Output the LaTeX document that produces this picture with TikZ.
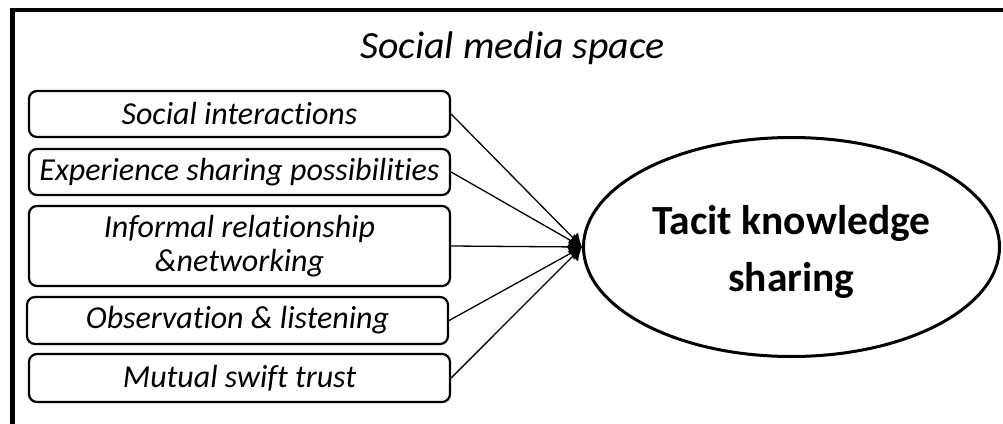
\documentclass[tikz,border=0pt]{standalone}
\usepackage{fontspec}
\setmainfont{Carlito}[Ligatures=NoCommon]
\newfontfamily\headingfont{Carlito}[Ligatures=NoCommon, FakeStretch=1.035]
\usetikzlibrary{arrows.meta,shapes.geometric}
\begin{document}
\begin{tikzpicture}[x=1pt,y=-1pt,
  factor/.style={draw, line width=2.2pt, rounded corners=8pt, minimum width=421pt,
    inner sep=0pt, align=center,
    font=\fontsize{32}{33.5}\selectfont\itshape},
  outcome/.style={draw, ellipse, line width=3pt, minimum width=416pt,
    minimum height=219pt, inner sep=0pt, align=center,
    font=\fontsize{41.5}{57}\selectfont\bfseries},
  heading/.style={font=\headingfont\fontsize{38.5}{42}\selectfont\itshape},
  link/.style={line width=1.3pt, -{Latex[length=13pt,width=15pt]}}
]
\useasboundingbox (0,0) rectangle (1003,423);

% frame of the social media space (open to the right and bottom)
\draw[line width=4.5pt] (12.5,440) -- (12.5,10) -- (1020,10);

\node[heading] (title) at (512.5,48) {Social media space};

% contributing factors
\node[factor, minimum height=46pt] (f1) at (239.5,114) {Social interactions};
\node[factor, minimum height=46pt] (f2) at (239.5,172) {Experience sharing possibilities};
\node[factor, minimum height=80pt] (f3) at (239.5,246) {Informal relationship\\\&networking};
\node[factor, minimum height=47pt] (f4) at (237.5,320.5) {Observation \& listening};
\node[factor, minimum height=48pt] (f5) at (239.5,378) {Mutual swift trust};

% outcome (the strut lowers the two lines a little inside the ellipse)
\node[outcome] (tks) at (791.5,247) {\rule{0pt}{39pt}Tacit knowledge\\sharing};

\foreach \f in {f1,f2,f3,f4,f5}
  \draw[link] (\f.east) -- (tks.west);
\end{tikzpicture}
\end{document}
